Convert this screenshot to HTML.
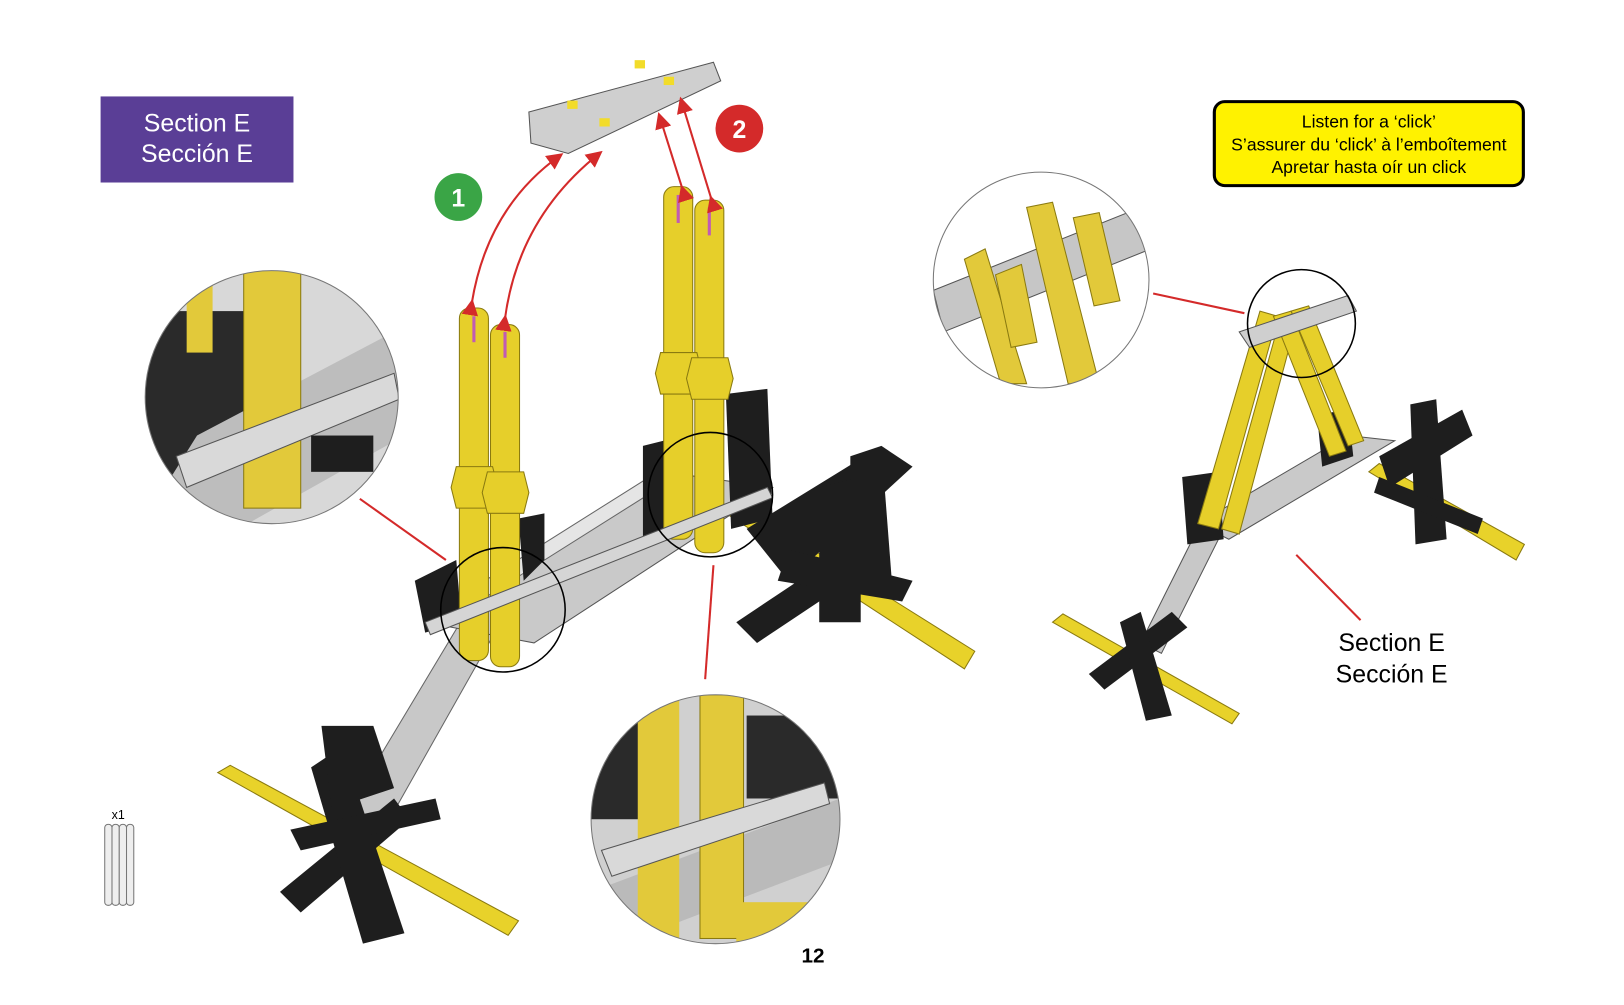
<!DOCTYPE html>
<html><head><meta charset="utf-8"><style>
html,body{margin:0;padding:0;background:#fff;}
body{width:1624px;height:1005px;overflow:hidden;position:relative;font-family:"Liberation Sans",sans-serif;}
svg{position:absolute;left:0;top:0;}
</style></head><body>
<svg width="1624" height="1005" viewBox="0 0 1624 1005" xmlns="http://www.w3.org/2000/svg">
<defs>
<clipPath id="cL"><circle cx="262" cy="383" r="122"/></clipPath>
<clipPath id="cB"><circle cx="690" cy="790" r="120"/></clipPath>
<clipPath id="cR"><circle cx="1004" cy="270" r="104"/></clipPath>
<marker id="ah" markerWidth="8" markerHeight="8" refX="6" refY="4" orient="auto"><path d="M0,0 L8,4 L0,8 z" fill="#d42a2a"/></marker>
</defs>
<g transform="scale(1.037)">
<rect x="97" y="93" width="186" height="83" fill="#5a3e96"/>
<text x="190" y="127" fill="#fff" font-size="24" text-anchor="middle">Section E</text>
<text x="190" y="156" fill="#fff" font-size="24" text-anchor="middle">Sección E</text>

<rect x="1171" y="98" width="298" height="81" rx="10" fill="#fff200" stroke="#000" stroke-width="3"/>
<text x="1320" y="123" font-size="17" text-anchor="middle">Listen for a ‘click’</text>
<text x="1320" y="145" font-size="17" text-anchor="middle">S’assurer du ‘click’ à l’emboîtement</text>
<text x="1320" y="167" font-size="17" text-anchor="middle">Apretar hasta oír un click</text>

<circle cx="442" cy="190" r="23" fill="#3aa546"/>
<text x="442" y="199" font-size="24" font-weight="bold" fill="#fff" text-anchor="middle">1</text>
<circle cx="713" cy="124" r="23" fill="#d42a2a"/>
<text x="713" y="133" font-size="24" font-weight="bold" fill="#fff" text-anchor="middle">2</text>

<polygon points="210,745 222,738 500,888 490,902" fill="#e8d22a" stroke="#8a7a10"/>
<polygon points="700,495 712,485 940,628 930,645" fill="#e8d22a" stroke="#8a7a10"/>
<polygon points="330,790 450,590 480,605 370,800" fill="#c8c8c8" stroke="#666"/>
<polygon points="410,600 640,455 745,470 515,620" fill="#c9c9c9" stroke="#555"/>
<polygon points="420,590 650,445 660,455 430,600" fill="#e5e5e5" stroke="#666"/>
<g fill="#1e1e1e">
<polygon points="270,860 380,770 395,790 290,880"/>
<polygon points="300,740 330,720 390,900 350,910"/>
<polygon points="280,800 420,770 425,790 290,820"/>
<polygon points="310,700 360,700 380,760 320,780"/>
<polygon points="400,560 440,540 445,600 410,610"/>
<polygon points="500,500 525,495 525,540 505,560"/>
<polygon points="620,430 660,420 665,500 620,520"/>
<polygon points="700,380 740,375 745,500 705,510"/>
<polygon points="720,510 850,430 880,450 760,560"/>
<polygon points="710,600 800,540 820,560 730,620"/>
<polygon points="790,470 830,460 830,600 790,600"/>
<polygon points="820,440 850,430 860,560 820,570"/>
<polygon points="760,530 880,560 870,580 750,560"/>
</g>
<g fill="#e6cf2a" stroke="#8a7a10">
<rect x="443" y="297" width="28" height="340" rx="10"/>
<rect x="473" y="313" width="28" height="330" rx="10"/>
<rect x="640" y="180" width="28" height="340" rx="10"/>
<rect x="670" y="193" width="28" height="340" rx="10"/>
<polygon points="440,450 475,450 480,470 475,490 440,490 435,470"/>
<polygon points="470,455 505,455 510,475 505,495 470,495 465,475"/>
<polygon points="637,340 672,340 677,360 672,380 637,380 632,360"/>
<polygon points="667,345 702,345 707,365 702,385 667,385 662,365"/>
</g>
<g stroke="#c05bb5" stroke-width="3"><line x1="457" y1="305" x2="457" y2="330"/><line x1="487" y1="320" x2="487" y2="345"/><line x1="654" y1="188" x2="654" y2="215"/><line x1="684" y1="200" x2="684" y2="227"/></g>
<polygon points="410,600 740,470 745,480 415,612" fill="#d5d5d5" stroke="#555"/>
<polygon points="510,108 688,60 695,78 548,148 512,138" fill="#cfcfcf" stroke="#555"/>
<rect x="547" y="97" width="10" height="8" fill="#f2dc2a"/><rect x="578" y="114" width="10" height="8" fill="#f2dc2a"/><rect x="612" y="58" width="10" height="8" fill="#f2dc2a"/><rect x="640" y="74" width="10" height="8" fill="#f2dc2a"/>
<circle cx="485" cy="588" r="60" fill="none" stroke="#000" stroke-width="1.5"/>
<circle cx="685" cy="477" r="60" fill="none" stroke="#000" stroke-width="1.5"/>

<g fill="none" stroke="#d42a2a" stroke-width="2">
<path d="M455,292 Q470,200 540,150" marker-start="url(#ah)" marker-end="url(#ah)"/>
<path d="M487,307 Q500,210 578,148" marker-start="url(#ah)" marker-end="url(#ah)"/>
<path d="M658,182 L636,112" marker-start="url(#ah)" marker-end="url(#ah)"/>
<path d="M686,192 L657,97" marker-start="url(#ah)" marker-end="url(#ah)"/>
<line x1="347" y1="481" x2="430" y2="540"/>
<line x1="680" y1="655" x2="688" y2="545"/>
<line x1="1112" y1="283" x2="1200" y2="302"/>
<line x1="1250" y1="535" x2="1312" y2="598"/>
</g>

<g clip-path="url(#cL)">
<rect x="140" y="260" width="250" height="250" fill="#d8d8d8"/>
<rect x="140" y="300" width="100" height="210" fill="#2a2a2a"/>
<polygon points="140,500 190,420 380,320 390,420 230,510" fill="#bdbdbd"/>
<rect x="235" y="260" width="55" height="230" fill="#e2c93a" stroke="#8a7a10"/>
<rect x="180" y="260" width="25" height="80" fill="#e2c93a"/>
<polygon points="170,440 380,360 385,385 180,470" fill="#d9d9d9" stroke="#555"/>
<rect x="300" y="420" width="60" height="35" fill="#1e1e1e"/>
</g>
<circle cx="262" cy="383" r="122" fill="none" stroke="#777" stroke-width="1"/>

<g clip-path="url(#cB)">
<rect x="570" y="670" width="240" height="240" fill="#d0d0d0"/>
<rect x="570" y="690" width="70" height="100" fill="#2a2a2a"/>
<rect x="720" y="690" width="90" height="80" fill="#2a2a2a"/>
<polygon points="570,860 810,770 810,830 600,910" fill="#bababa"/>
<rect x="615" y="670" width="40" height="240" fill="#e2c93a"/>
<rect x="675" y="670" width="42" height="235" fill="#e2c93a" stroke="#8a7a10"/>
<polygon points="580,820 795,755 800,775 590,845" fill="#d9d9d9" stroke="#555"/>
<rect x="710" y="870" width="100" height="40" fill="#e2c93a"/>
</g>
<circle cx="690" cy="790" r="120" fill="none" stroke="#777" stroke-width="1"/>

<polygon points="1015,600 1025,592 1195,688 1188,698" fill="#e8d22a" stroke="#8a7a10"/>
<polygon points="1320,455 1330,447 1470,525 1462,540" fill="#e8d22a" stroke="#8a7a10"/>
<polygon points="1100,620 1160,500 1180,510 1120,630" fill="#c8c8c8" stroke="#555"/>
<polygon points="1155,505 1300,420 1345,425 1185,520" fill="#c9c9c9" stroke="#555"/>
<g fill="#1e1e1e">
<polygon points="1050,650 1130,590 1145,605 1065,665"/>
<polygon points="1080,600 1100,590 1130,690 1105,695"/>
<polygon points="1140,460 1175,455 1180,520 1145,525"/>
<polygon points="1270,400 1300,395 1305,440 1275,450"/>
<polygon points="1330,440 1410,395 1420,420 1340,470"/>
<polygon points="1360,390 1385,385 1395,520 1365,525"/>
<polygon points="1330,460 1430,500 1425,515 1325,475"/>
</g>
<g fill="#e6cf2a" stroke="#8a7a10">
<polygon points="1155,505 1215,300 1232,305 1175,510"/>
<polygon points="1178,510 1235,305 1250,310 1195,515"/>
<polygon points="1245,300 1300,430 1315,425 1262,295"/>
<polygon points="1228,305 1282,440 1298,435 1245,300"/>
</g>
<polygon points="1195,320 1300,285 1308,300 1205,335" fill="#cfcfcf" stroke="#555"/>
<circle cx="1255" cy="312" r="52" fill="none" stroke="#000" stroke-width="1.5"/>

<g clip-path="url(#cR)">
<rect x="900" y="166" width="210" height="210" fill="#fff"/>
<polygon points="900,280 1100,200 1110,240 910,320" fill="#c6c6c6" stroke="#555"/>
<polygon points="930,250 950,240 990,370 965,370" fill="#e2c93a" stroke="#8a7a10"/>
<polygon points="960,265 985,255 1000,330 975,335" fill="#e2c93a" stroke="#8a7a10"/>
<polygon points="990,200 1015,195 1060,370 1030,370" fill="#e2c93a" stroke="#8a7a10"/>
<polygon points="1035,210 1060,205 1080,290 1055,295" fill="#e2c93a" stroke="#8a7a10"/>
</g>
<circle cx="1004" cy="270" r="104" fill="none" stroke="#777" stroke-width="1"/>

<text x="1342" y="628" font-size="24" text-anchor="middle">Section E</text>
<text x="1342" y="658" font-size="24" text-anchor="middle">Sección E</text>

<text x="114" y="790" font-size="12" text-anchor="middle">x1</text>
<g fill="#eee" stroke="#777"><rect x="101" y="795" width="7" height="78" rx="3"/><rect x="108" y="795" width="7" height="78" rx="3"/><rect x="115" y="795" width="7" height="78" rx="3"/><rect x="122" y="795" width="7" height="78" rx="3"/></g>

<text x="784" y="928" font-size="20" font-weight="bold" text-anchor="middle">12</text>
</g>
</svg>
</body></html>
